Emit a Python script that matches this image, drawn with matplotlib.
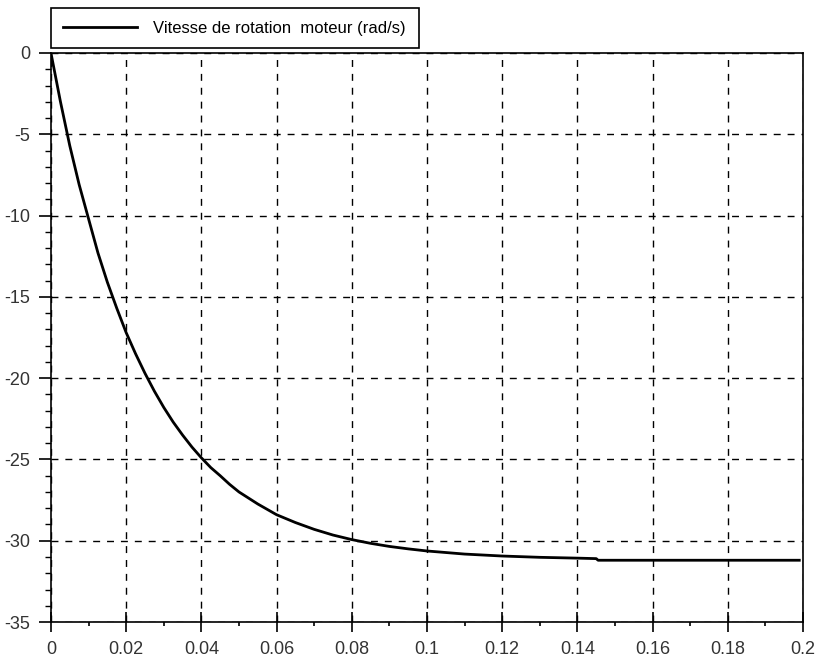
import numpy as np
from matplotlib import pyplot as plt
from matplotlib.ticker import MultipleLocator

# motor speed
t = [0, 0.0025, 0.005, 0.0075, 0.01, 0.0125, 0.015, 0.0175, 0.02, 0.0225,
     0.025, 0.0275, 0.03, 0.0325, 0.035, 0.0375, 0.04, 0.0425, 0.045, 0.0475,
     0.05, 0.055, 0.06, 0.065, 0.07, 0.075, 0.08, 0.085, 0.09, 0.095, 0.1,
     0.11, 0.12, 0.13, 0.14, 0.145, 0.1455, 0.199]
w = [0, -2.97, -5.7, -8.1, -10.2, -12.3, -14.1, -15.7, -17.2, -18.5,
     -19.7, -20.8, -21.8, -22.7, -23.5, -24.24, -24.9, -25.5, -26.0, -26.53,
     -27.0, -27.74, -28.4, -28.88, -29.3, -29.65, -29.93, -30.16, -30.35, -30.5, -30.63,
     -30.82, -30.94, -31.02, -31.07, -31.1, -31.2, -31.2]
label = "Vitesse de rotation  moteur (rad/s)"
xticks = [0, 0.02, 0.04, 0.06, 0.08, 0.1, 0.12, 0.14, 0.16, 0.18, 0.2]
xlabels = ["0", "0.02", "0.04", "0.06", "0.08", "0.1", "0.12", "0.14", "0.16", "0.18", "0.2"]
yticks = [0, -5, -10, -15, -20, -25, -30, -35]
ylabels = ["0", "-5", "-10", "-15", "-20", "-25", "-30", "-35"]

plt.rcParams['font.family'] = ['Liberation Sans', 'DejaVu Sans']

fig = plt.figure(figsize=(8.18, 6.59), dpi=100)
ax = fig.add_axes([0.0623, 0.0561, 0.9194, 0.8635])

ax.plot(t, w, color="black", lw=2, label=label)

ax.set_xlim(0, 0.2)
ax.set_ylim(-35, 0)
ax.set_xticks(xticks)
ax.set_xticklabels(xlabels)
ax.set_yticks(yticks)
ax.set_yticklabels(ylabels)
ax.xaxis.set_minor_locator(MultipleLocator(0.01))
ax.yaxis.set_minor_locator(MultipleLocator(1))

ax.grid(True, which="major", color="black", linestyle=(0, (5, 5)), lw=1)
ax.tick_params(axis="x", which="major", direction="inout", length=14, width=1.2,
               labelsize=13, labelcolor="#333333", pad=7)
ax.tick_params(axis="x", which="minor", direction="out", length=3, width=1.2)
ax.tick_params(axis="y", which="major", direction="out", length=9, width=1.2,
               labelsize=13, labelcolor="#333333", pad=6)
ax.tick_params(axis="y", which="minor", direction="out", length=4, width=1)
for s in ax.spines.values():
    s.set_linewidth(1.2)

leg = ax.legend(loc="lower left", bbox_to_anchor=(0.0, 1.008), fontsize=12,
                fancybox=False, edgecolor="black", framealpha=1,
                handlelength=4.4, handletextpad=1.0, borderpad=0.75,
                borderaxespad=0)
leg.get_frame().set_linewidth(1.2)

fig.savefig("out.png", dpi=100)
